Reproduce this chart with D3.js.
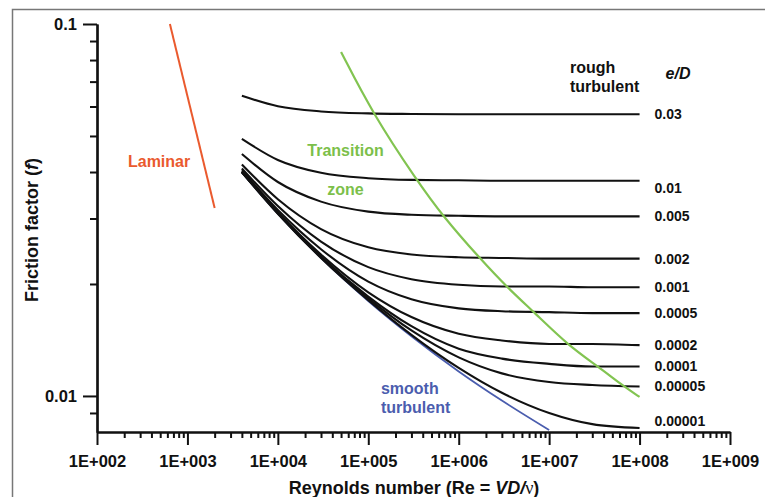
<!DOCTYPE html>
<html>
<head>
<meta charset="utf-8">
<script src="https://cdn.jsdelivr.net/npm/d3@7"></script>
<style>
  body { margin: 0; background: #fff; }
  svg text { font-family: "Liberation Sans", Arial, sans-serif; font-weight: bold; }
</style>
</head>
<body>
<script>
// Reynolds numbers where the friction curves were read
var reynolds = [4e3, 1e4, 3e4, 1e5, 3e5, 1e6, 3e6, 1e7, 3e7, 1e8];

// relative roughness e/D, one curve each
var roughness = ["0.03", "0.01", "0.005", "0.002", "0.001", "0.0005", "0.0002", "0.0001", "0.00005", "0.00001"];

var friction = [
  [0.0641, 0.0601, 0.0582, 0.0575, 0.0573, 0.0572, 0.0572, 0.0572, 0.0572, 0.0572],
  [0.0491, 0.0431, 0.0398, 0.0385, 0.0381, 0.0380, 0.0379, 0.0379, 0.0379, 0.0379],
  [0.0447, 0.0376, 0.0333, 0.0313, 0.0307, 0.0305, 0.0304, 0.0304, 0.0304, 0.0304],
  [0.0419, 0.0338, 0.0281, 0.0251, 0.0240, 0.0236, 0.0235, 0.0234, 0.0234, 0.0234],
  [0.0409, 0.0324, 0.0260, 0.0222, 0.0206, 0.0199, 0.0197, 0.0197, 0.0196, 0.0196],
  [0.0404, 0.0316, 0.0248, 0.0203, 0.0182, 0.0172, 0.0169, 0.0168, 0.0167, 0.0167],
  [0.0401, 0.0312, 0.0240, 0.0190, 0.0163, 0.0147, 0.0141, 0.0138, 0.0138, 0.0137],
  [0.0400, 0.0311, 0.0237, 0.0185, 0.0154, 0.0134, 0.0126, 0.0122, 0.0120, 0.0120],
  [0.0400, 0.0310, 0.0236, 0.0183, 0.0150, 0.0127, 0.0115, 0.0109, 0.0107, 0.0106],
  [0.0399, 0.0309, 0.0235, 0.0181, 0.0146, 0.0119, 0.0102, 0.0090, 0.0084, 0.0082]
];

// smooth turbulent (blue)
var smoothRe = [4e3, 1e4, 3e4, 1e5, 3e5, 1e6, 3e6, 1e7];
var smoothF = [0.0399, 0.0309, 0.0235, 0.0180, 0.01447, 0.01164, 0.00972, 0.0081];

// laminar (red)
var laminarRe = [640, 2000];
var laminarF = [0.1, 0.032];

// transition zone boundary (green)
var transitionRe = [5.0e4, 1.13e5, 3.46e5, 6.7e5, 1.72e6, 3.42e6, 6.97e6, 1.61e7, 3.47e7, 6.9e7, 1.0e8];
var transitionF = [0.0841, 0.0572, 0.0379, 0.0304, 0.0234, 0.0196, 0.0167, 0.0137, 0.0120, 0.01055, 0.00994];

// axis ticks
var xMajor = [1e2, 1e3, 1e4, 1e5, 1e6, 1e7, 1e8, 1e9];
var yMajor = [0.1, 0.01];
var yMinor = [0.09, 0.08, 0.07, 0.06, 0.05, 0.04, 0.03, 0.02, 0.009];

var width = 765, height = 497;

var svg = d3.select("body").append("svg")
  .attr("width", width)
  .attr("height", height);

// grey frame (left and top edges are visible)
svg.append("path")
  .attr("d", "M12.5,497V9.5H765")
  .attr("fill", "none")
  .attr("stroke", "#777")
  .attr("stroke-width", 1.5);

var x = d3.scaleLog().domain([1e2, 1e9]).range([97, 730]);
var y = d3.scaleLog().domain([0.008, 0.1]).range([432, 24]);

var xMinor = [];
xMajor.slice(0, -1).forEach(function(d) {
  for (var k = 2; k <= 9; k++) xMinor.push(d * k);
});

var fmtX = function(d) {
  return "1E+" + String(Math.round(Math.log10(d))).padStart(3, "0");
};

// x axis
var gx = svg.append("g").attr("transform", "translate(0,432)");
gx.append("g")
  .call(d3.axisBottom(x).tickValues(xMinor).tickSize(6).tickSizeOuter(0).tickFormat(""));
gx.append("g")
  .call(d3.axisBottom(x).tickValues(xMajor).tickSize(13).tickSizeOuter(0).tickPadding(10).tickFormat(fmtX));

// y axis
var gy = svg.append("g").attr("transform", "translate(97,0)");
gy.append("g")
  .call(d3.axisLeft(y).tickValues(yMinor).tickSize(7).tickSizeOuter(0).tickFormat(""));
gy.append("g")
  .call(d3.axisLeft(y).tickValues(yMajor).tickSize(14).tickSizeOuter(0).tickPadding(6).tickFormat(d3.format("")));

svg.selectAll(".domain").attr("stroke", "#111").attr("stroke-width", 2.2);
svg.selectAll(".tick line").attr("stroke", "#111").attr("stroke-width", 2);
svg.selectAll(".tick text").attr("fill", "#111").style("font-size", "16.5px");

var line = d3.line()
  .x(function(d) { return x(d[0]); })
  .y(function(d) { return y(d[1]); })
  .curve(d3.curveMonotoneX);

var plot = svg.append("g");

plot.append("path")
  .datum(d3.zip(smoothRe, smoothF))
  .attr("d", line)
  .attr("fill", "none")
  .attr("stroke", "#4a5dae")
  .attr("stroke-width", 1.8);

plot.selectAll(".rough")
  .data(friction)
  .join("path")
  .attr("class", "rough")
  .attr("d", function(f) { return line(d3.zip(reynolds, f)); })
  .attr("fill", "none")
  .attr("stroke", "#111")
  .attr("stroke-width", 2.1);

plot.append("path")
  .datum(d3.zip(laminarRe, laminarF))
  .attr("d", line)
  .attr("fill", "none")
  .attr("stroke", "#ea5a2e")
  .attr("stroke-width", 2);

// hand-read points are a bit noisy, so smooth them with a basis spline
plot.append("path")
  .datum(d3.zip(transitionRe, transitionF))
  .attr("d", line.curve(d3.curveBasis))
  .attr("fill", "none")
  .attr("stroke", "#82c451")
  .attr("stroke-width", 2.2);

// e/D labels at the end of each curve
var labelShift = {"0.01": 7, "0.00001": -7};
svg.selectAll(".edlabel")
  .data(roughness)
  .join("text")
  .attr("class", "edlabel")
  .attr("x", x(1e8) + 15)
  .attr("y", function(d, i) { return y(friction[i][friction[i].length - 1]) + (labelShift[d] || 0); })
  .attr("dy", "0.35em")
  .style("font-size", "14px")
  .attr("fill", "#111")
  .text(function(d) { return d; });

function note(re, f, lines, color, anchor) {
  var t = svg.append("text")
    .attr("x", x(re))
    .attr("y", y(f))
    .attr("dy", "0.35em")
    .attr("fill", color)
    .attr("text-anchor", anchor || "start")
    .style("font-size", "16px");
  return t.text(lines);
}

note(220, 0.0426, "Laminar", "#ea5a2e");
note(5.6e4, 0.0456, "Transition", "#7cbf4a", "middle");
note(5.6e4, 0.0360, "zone", "#7cbf4a", "middle");
note(1.38e5, 0.01051, "smooth", "#4b5dae");
note(1.38e5, 0.00934, "turbulent", "#4b5dae");
note(1.70e7, 0.0766, "rough", "#111");
note(1.70e7, 0.0681, "turbulent", "#111");

var ed = svg.append("text")
  .attr("x", x(2.66e8))
  .attr("y", y(0.0738))
  .attr("dy", "0.35em")
  .attr("text-anchor", "middle")
  .attr("fill", "#111")
  .style("font-size", "16px")
  .style("font-style", "italic");
ed.text("e/D");

// axis titles
var xt = svg.append("text")
  .attr("x", 414)
  .attr("y", 488)
  .attr("dy", "0.35em")
  .attr("text-anchor", "middle")
  .attr("fill", "#111")
  .style("font-size", "18px");
xt.append("tspan").text("Reynolds number (Re = ");
xt.append("tspan").style("font-style", "italic").text("VD/");
xt.append("tspan").style("font-family", "'Liberation Serif', serif").style("font-weight", "normal").text("ν");
xt.append("tspan").text(")");

var yt = svg.append("text")
  .attr("transform", "translate(32,230) rotate(-90)")
  .attr("dy", "0.35em")
  .attr("text-anchor", "middle")
  .attr("fill", "#111")
  .style("font-size", "18px");
yt.append("tspan").text("Friction factor (");
yt.append("tspan").style("font-style", "italic").text("f");
yt.append("tspan").text(")");
</script>
</body>
</html>
